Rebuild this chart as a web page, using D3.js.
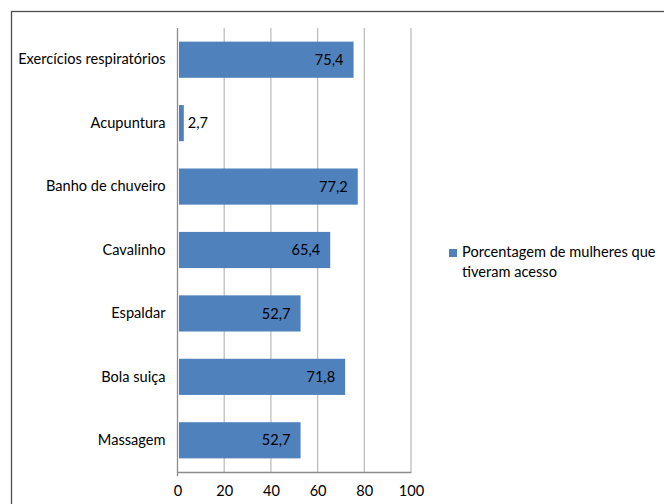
<!DOCTYPE html>
<html>
<head>
<meta charset="utf-8">
<script src="https://cdn.jsdelivr.net/npm/d3@7"></script>
<style>
  body { margin: 0; background: #fff; }
  text { font-family: Lato, "Open Sans", sans-serif; fill: #000; }
</style>
</head>
<body>
<svg id="chart" width="664" height="504"></svg>
<script>
const categories = [
  "Exercícios respiratórios",
  "Acupuntura",
  "Banho de chuveiro",
  "Cavalinho",
  "Espaldar",
  "Bola suiça",
  "Massagem",
];
const values = [75.4, 2.7, 77.2, 65.4, 52.7, 71.8, 52.7];
const xTicks = [0, 20, 40, 60, 80, 100];
const seriesName = ["Porcentagem de mulheres que", "tiveram acesso"];

const svg = d3.select("#chart");
const fontSize = 14.6;

// outer frame, cut by the window on the right and bottom
svg.append("rect")
  .attr("x", 11.5).attr("y", 11.5)
  .attr("width", 720).attr("height", 600)
  .attr("fill", "none")
  .attr("stroke", "#4d4d4d")
  .attr("stroke-width", 1.3);

const plot = { left: 177.5, right: 411, top: 28, bottom: 472 };

const x = d3.scaleLinear().domain([0, 100]).range([plot.left, plot.right]);
const y = d3.scaleBand()
  .domain(categories)
  .range([plot.top, plot.bottom])
  .paddingInner(0.43)
  .paddingOuter(0.215);

// vertical gridlines
svg.append("g")
  .selectAll("line")
  .data(xTicks.slice(1))
  .join("line")
  .attr("x1", (d) => x(d)).attr("x2", (d) => x(d))
  .attr("y1", plot.top).attr("y2", plot.bottom)
  .attr("stroke", "#bdbdbd")
  .attr("stroke-width", 1.3);

// bottom axis
const gx = svg.append("g")
  .attr("transform", `translate(0,${plot.bottom})`)
  .call(d3.axisBottom(x).tickValues(xTicks).tickSize(0).tickPadding(14));
gx.select(".domain").attr("stroke", "#8c8c8c").attr("stroke-width", 1.3);
gx.selectAll("text")
  .style("font-family", "Lato, sans-serif")
  .style("font-size", fontSize + "px")
  .attr("fill", "#000");

// left axis
const gy = svg.append("g")
  .attr("transform", `translate(${plot.left},0)`)
  .call(d3.axisLeft(y).tickSize(0).tickPadding(12));
gy.select(".domain").attr("d", `M0,${plot.top}V${plot.bottom + 4}`)
  .attr("stroke", "#8c8c8c").attr("stroke-width", 1.3);
gy.selectAll("text")
  .style("font-family", "Lato, sans-serif")
  .style("font-size", fontSize + "px")
  .attr("fill", "#000");

// bars
const barStart = x(0) + 1.5;
svg.append("g")
  .selectAll("rect")
  .data(values)
  .join("rect")
  .attr("x", barStart)
  .attr("y", (d, i) => y(categories[i]))
  .attr("width", (d) => x(d) - barStart)
  .attr("height", y.bandwidth())
  .attr("fill", "#4f81bd");

// value labels, inside end unless the bar is too short
svg.append("g")
  .selectAll("text")
  .data(values)
  .join("text")
  .attr("x", (d) => (d < 15 ? x(d) + 4 : x(d) - 10))
  .attr("y", (d, i) => y(categories[i]) + y.bandwidth() / 2)
  .attr("dy", "0.35em")
  .attr("text-anchor", (d) => (d < 15 ? "start" : "end"))
  .style("font-size", fontSize + "px")
  .text((d) => d3.format(".1f")(d).replace(".", ","));

// legend
const legend = svg.append("g").attr("transform", "translate(449,249)");
legend.append("rect")
  .attr("width", 8).attr("height", 8)
  .attr("fill", "#4f81bd");
legend.selectAll("text")
  .data(seriesName)
  .join("text")
  .attr("x", 13)
  .attr("y", (d, i) => 3 + i * 20)
  .attr("dy", "0.35em")
  .style("font-size", fontSize + "px")
  .text((d) => d);
</script>
</body>
</html>
